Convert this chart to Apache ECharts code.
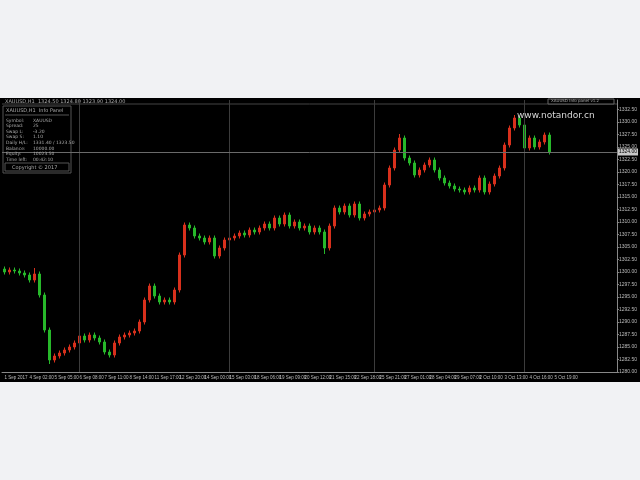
<!DOCTYPE html>
<html>
<head>
<meta charset="utf-8">
<script src="https://cdn.jsdelivr.net/npm/echarts@6/dist/echarts.min.js"></script>
<style>
html,body{margin:0;padding:0;background:#f1f2f4;}
#chart{width:640px;height:480px;}
</style>
</head>
<body>
<div id="chart"></div>
<script>
// ---- data ----
var opens = [1300.6,1300.0,1300.4,1300.2,1299.8,1299.4,1298.4,1299.6,1295.4,1288.4,
1282.4,1283.2,1283.8,1284.4,1285.0,1285.8,1287.2,1286.4,1287.4,1286.8,
1286.0,1284.0,1283.4,1285.8,1287.0,1287.4,1287.8,1288.2,1290.0,1294.4,
1297.2,1295.2,1294.0,1294.4,1294.0,1296.4,1303.4,1309.4,1308.8,1307.2,
1306.8,1306.0,1306.8,1303.2,1304.8,1306.4,1306.8,1307.2,1307.8,1307.4,
1308.4,1308.0,1308.8,1309.6,1308.8,1310.8,1309.6,1311.4,1309.2,1310.0,
1308.8,1309.2,1308.0,1308.8,1308.0,1304.8,1309.2,1312.8,1312.0,1313.2,
1311.4,1313.6,1310.8,1311.6,1312.0,1312.4,1312.8,1317.4,1320.8,1324.4,
1326.8,1322.8,1321.8,1319.4,1320.4,1321.4,1322.4,1320.4,1318.8,1317.8,
1317.2,1316.6,1316.4,1316.0,1316.8,1316.4,1318.8,1316.0,1317.6,1319.2,
1320.8,1325.4,1328.8,1330.8,1329.4,1324.8,1326.8,1325.0,1326.0,1327.4];
var closes = [1300.0,1300.4,1300.2,1299.8,1299.4,1298.4,1299.6,1295.4,1288.4,1282.4,
1283.2,1283.8,1284.4,1285.0,1285.8,1287.2,1286.4,1287.4,1286.8,1286.0,
1284.0,1283.4,1285.8,1287.0,1287.4,1287.8,1288.2,1290.0,1294.4,1297.2,
1295.2,1294.0,1294.4,1294.0,1296.4,1303.4,1309.4,1308.8,1307.2,1306.8,
1306.0,1306.8,1303.2,1304.8,1306.4,1306.8,1307.2,1307.8,1307.4,1308.4,
1308.0,1308.8,1309.6,1308.8,1310.8,1309.6,1311.4,1309.2,1310.0,1308.8,
1309.2,1308.0,1308.8,1308.0,1304.8,1309.2,1312.8,1312.0,1313.2,1311.4,
1313.6,1310.8,1311.6,1312.0,1312.4,1312.8,1317.4,1320.8,1324.4,1326.8,
1322.8,1321.8,1319.4,1320.4,1321.4,1322.4,1320.4,1318.8,1317.8,1317.2,
1316.6,1316.4,1316.0,1316.8,1316.4,1318.8,1316.0,1317.6,1319.2,1320.8,
1325.4,1328.8,1330.8,1329.4,1324.8,1326.8,1325.0,1326.0,1327.4,1324.0];
var lows = [1299.5,1299.5,1299.7,1299.3,1298.9,1297.9,1297.9,1294.9,1287.9,1281.6,
1281.9,1282.7,1283.3,1283.9,1284.5,1285.3,1285.9,1285.9,1286.3,1285.5,
1283.5,1282.9,1282.9,1285.3,1286.5,1286.9,1287.3,1287.7,1289.5,1293.9,
1294.7,1293.5,1293.5,1293.5,1293.5,1295.9,1302.9,1308.3,1306.7,1306.3,
1305.5,1305.5,1302.7,1302.7,1304.3,1305.9,1306.3,1306.7,1306.9,1306.9,
1307.5,1307.5,1308.3,1308.3,1308.3,1309.1,1309.1,1308.7,1308.7,1308.3,
1308.3,1307.5,1307.5,1307.5,1303.6,1304.3,1308.7,1311.5,1311.5,1310.9,
1310.9,1310.3,1310.3,1311.1,1311.5,1311.9,1312.3,1316.9,1320.3,1323.9,
1322.3,1321.3,1318.9,1318.9,1319.9,1320.9,1319.9,1318.3,1317.3,1316.7,
1316.1,1315.9,1315.5,1315.5,1315.9,1315.9,1315.5,1315.5,1317.1,1318.7,
1320.3,1324.9,1328.3,1328.9,1324.3,1324.3,1324.5,1324.5,1325.5,1323.5];
var highs = [1301.1,1300.9,1300.9,1300.7,1300.3,1299.9,1300.8,1300.1,1295.9,1288.9,
1283.7,1284.3,1284.9,1285.5,1286.3,1287.7,1287.7,1287.9,1287.9,1287.3,
1286.5,1284.5,1286.3,1287.5,1287.9,1288.3,1288.7,1290.5,1294.9,1297.7,
1297.7,1295.7,1294.9,1294.9,1296.9,1303.9,1309.9,1309.9,1309.3,1307.7,
1307.3,1307.3,1307.3,1305.3,1306.9,1307.3,1307.7,1308.3,1308.3,1308.9,
1308.9,1309.3,1310.1,1310.1,1311.3,1311.3,1311.9,1311.9,1310.5,1310.5,
1309.7,1309.7,1309.3,1309.3,1308.5,1309.7,1313.3,1313.3,1313.7,1313.7,
1314.1,1314.1,1312.1,1312.5,1312.9,1313.3,1317.9,1321.3,1324.9,1327.6,
1327.3,1323.3,1322.3,1320.9,1321.9,1322.9,1322.9,1320.9,1319.3,1318.3,
1317.7,1317.1,1316.9,1317.3,1317.3,1319.3,1319.3,1318.1,1319.7,1321.3,
1325.9,1329.3,1331.4,1331.3,1329.9,1327.3,1327.3,1326.5,1327.9,1327.9];
var timeLabels = ['1 Sep 2017','4 Sep 02:00','5 Sep 05:00','6 Sep 08:00','7 Sep 11:00','8 Sep 14:00',
'11 Sep 17:00','12 Sep 20:00','14 Sep 00:00','15 Sep 03:00','18 Sep 06:00','19 Sep 09:00',
'20 Sep 12:00','21 Sep 15:00','22 Sep 18:00','25 Sep 21:00','27 Sep 01:00','28 Sep 04:00',
'29 Sep 07:00','2 Oct 10:00','3 Oct 13:00','4 Oct 16:00','5 Oct 19:00'];
var gridLineIdx = [15, 45, 74, 104];
var emptySlots = 13;
var bidPrice = 1324.0;
var panelRows = [['Symbol:','XAUUSD'],['Spread:','25'],['Swap L:','-3.20'],['Swap S:','1.10'],
['Daily H/L:','1331.40 / 1323.50'],['Balance:','10000.00'],['Equity:','10023.50'],['Time left:','00:42:10']];

// ---- build ----
var n = closes.length;
var cats = [], kdata = [];
for (var i = 0; i < n + emptySlots; i++) {
  cats.push(i % 5 === 0 && i / 5 < timeLabels.length ? timeLabels[i / 5] : '');
}
for (var j = 0; j < n; j++) kdata.push([opens[j], closes[j], lows[j], highs[j]]);

var gfx = [
  {type:'rect', z:-100, shape:{x:0,y:98,width:640,height:284}, style:{fill:'#000'}},
  {type:'line', z:5, shape:{x1:2,y1:104,x2:617,y2:104}, style:{stroke:'#444',lineWidth:1}},
  {type:'text', z:5, left:5, top:99, style:{text:'XAUUSD,H1  1324.50 1324.80 1323.90 1324.00', fill:'#aaa', font:'5px "DejaVu Sans"'}},
  {type:'rect', z:5, shape:{x:548,y:99,width:66,height:5}, style:{fill:'#000',stroke:'#666',lineWidth:1}},
  {type:'text', z:6, left:551, top:99, style:{text:'XAUUSD Info panel v1.2', fill:'#aaa', font:'4px "DejaVu Sans"'}},
  {type:'rect', z:5, shape:{x:3,y:106,width:68,height:67}, style:{fill:'#000',stroke:'#555',lineWidth:1}},
  {type:'text', z:6, left:6, top:108, style:{text:'XAUUSD,H1  Info Panel', fill:'#aaa', font:'5px "DejaVu Sans"'}},
  {type:'line', z:6, shape:{x1:5,y1:115,x2:69,y2:115}, style:{stroke:'#555',lineWidth:1}},
  {type:'rect', z:6, shape:{x:5,y:163,width:64,height:8}, style:{fill:'#000',stroke:'#555',lineWidth:1}},
  {type:'text', z:7, left:12, top:165, style:{text:'Copyright © 2017', fill:'#aaa', font:'5px "DejaVu Sans"'}},
  {type:'text', z:6, left:517, top:111, style:{text:'www.notandor.cn', fill:'#d8d8d8', font:'9px "DejaVu Sans"'}}
];
panelRows.forEach(function (r, k) {
  gfx.push({type:'text', z:6, left:6, top:118 + k * 5.6, style:{text:r[0], fill:'#aaa', font:'4.5px "DejaVu Sans"'}});
  gfx.push({type:'text', z:6, left:33, top:118 + k * 5.6, style:{text:r[1], fill:'#aaa', font:'4.5px "DejaVu Sans"'}});
});

var chart = echarts.init(document.getElementById('chart'));
chart.setOption({
  animation: false,
  backgroundColor: '#f1f2f4',
  graphic: gfx,
  grid: {left: 2, right: 23, top: 100, bottom: 108},
  xAxis: {
    type: 'category', data: cats, boundaryGap: true,
    axisLine: {lineStyle: {color: '#888'}},
    axisTick: {show: false},
    axisLabel: {interval: 0, color: '#bbb', fontSize: 4.5, margin: 3, align: 'left',
      formatter: function (v) { return v; }},
    splitLine: {show: false}
  },
  yAxis: {
    type: 'value', position: 'right', min: 1280, max: 1334.4, interval: 2.5,
    axisLine: {show: true, lineStyle: {color: '#888'}},
    axisTick: {show: true, length: 2, lineStyle: {color: '#888'}},
    axisLabel: {color: '#bbb', fontSize: 5, margin: 2, showMaxLabel: false,
      formatter: function (v) { return v.toFixed(2); }},
    splitLine: {show: false}
  },
  series: [{
    type: 'candlestick',
    data: kdata,
    barWidth: 2,
    itemStyle: {color: '#d8301c', color0: '#27b82a', borderColor: '#d8301c', borderColor0: '#27b82a', borderWidth: 1},
    markLine: {
      silent: true, symbol: 'none', animation: false,
      data: gridLineIdx.map(function (k) {
        return {xAxis: k, lineStyle: {color: '#3c3c3c', type: 'solid', width: 1}, label: {show: false}};
      }).concat([{yAxis: bidPrice, lineStyle: {color: '#6a6a6a', type: 'solid', width: 1},
        label: {show: true, position: 'end', distance: 1, formatter: bidPrice.toFixed(2), color: '#000',
          backgroundColor: '#c8c8c8', fontSize: 5, padding: [1, 1]}}])
    }
  }]
});
</script>
</body>
</html>
